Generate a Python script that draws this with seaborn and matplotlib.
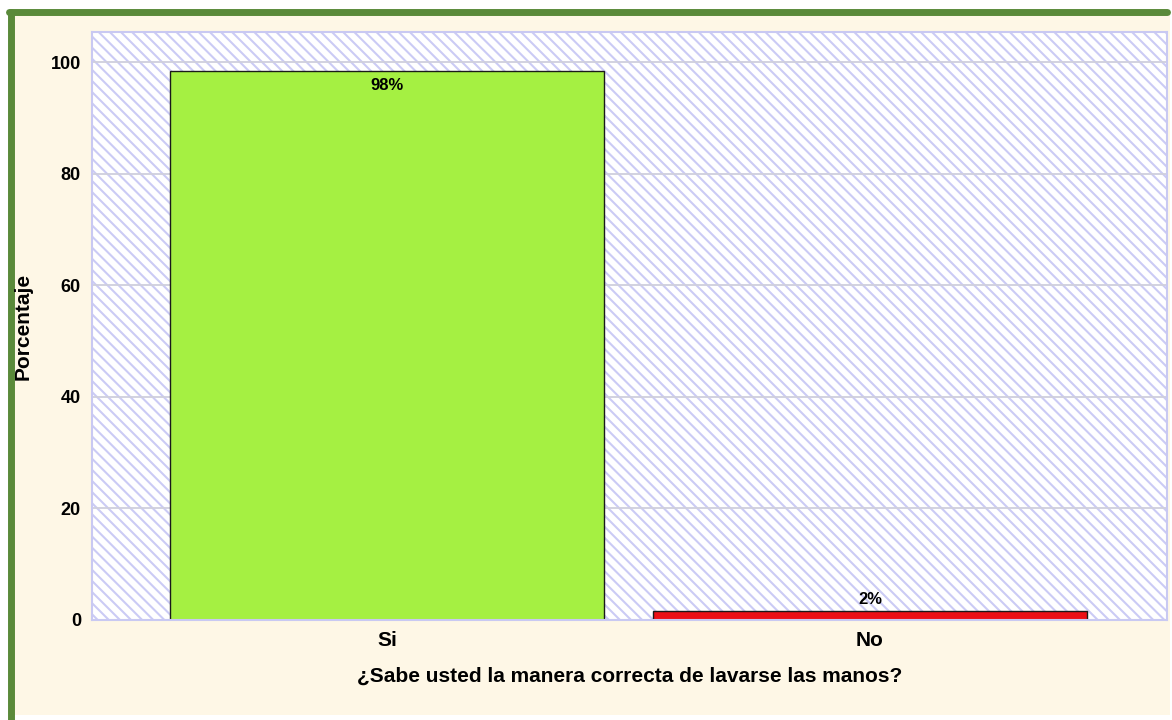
import pandas as pd
import matplotlib.pyplot as plt
import seaborn as sns
from matplotlib.patches import Rectangle

categorias = ["Si", "No"]
porcentajes = [98.4, 1.6]
etiquetas = ["98%", "2%"]
colores = ["#A5F042", "#EC0F16"]

df = pd.DataFrame({"Respuesta": categorias, "Porcentaje": porcentajes})

sns.set_style("white")
plt.rcParams["font.family"] = ["Liberation Sans Narrow", "Liberation Sans", "DejaVu Sans"]
plt.rcParams["hatch.linewidth"] = 1.5
plt.rcParams["text.color"] = "black"
plt.rcParams["axes.labelcolor"] = "black"
plt.rcParams["xtick.color"] = "black"
plt.rcParams["ytick.color"] = "black"

fig = plt.figure(figsize=(11.72, 7.2), dpi=100)
fig.patch.set_facecolor("white")
# fondo crema con borde verde
fig.add_artist(Rectangle((10 / 1172, 0.007), 1160 / 1172, 1 - 0.007 - 12 / 720,
                         transform=fig.transFigure, facecolor="#FEF7E6",
                         edgecolor="none", zorder=-5))
fig.add_artist(plt.Line2D([11 / 1172, 11 / 1172], [0, 1 - 12 / 720],
                          transform=fig.transFigure, color="#5A8A3A", lw=5, zorder=-4))
fig.add_artist(plt.Line2D([9 / 1172, 1167 / 1172], [1 - 12 / 720, 1 - 12 / 720],
                          transform=fig.transFigure, color="#5A8A3A", lw=5, zorder=-4))

ax = fig.add_axes([92 / 1172, 1 - 620 / 720, (1167 - 92) / 1172, (620 - 32) / 720])
ax.set_zorder(2)
ax.set_facecolor("white")
ax.add_patch(Rectangle((0, 0), 1, 1, transform=ax.transAxes, facecolor="white",
                       edgecolor="#CBCBF5", hatch="\\\\\\", lw=0, zorder=0))

for y in [20, 40, 60, 80, 100]:
    ax.axhline(y, color="#CFCFDD", lw=1.3, zorder=1)

sns.barplot(data=df, x="Respuesta", y="Porcentaje", hue="Respuesta",
            palette=colores, saturation=1, width=0.9, edgecolor="#1A1A1A",
            linewidth=1, legend=False, ax=ax, zorder=2)

for i, (v, t) in enumerate(zip(porcentajes, etiquetas)):
    if v > 50:
        ax.text(i, v - 1.2, t, ha="center", va="top", fontsize=12, fontweight="bold")
    else:
        ax.text(i, v + 0.8, t, ha="center", va="bottom", fontsize=12, fontweight="bold")

ax.set_xlim(-0.611, 1.615)
ax.set_ylim(0, 105.4)
ax.set_yticks([0, 20, 40, 60, 80, 100])
ax.tick_params(axis="y", labelsize=13, length=0, pad=8)
ax.tick_params(axis="x", labelsize=15, length=0, pad=8)
for lab in ax.get_yticklabels():
    lab.set_fontweight("bold")
for lab in ax.get_xticklabels():
    lab.set_fontweight("bold")
    lab.set_family(["Liberation Sans", "DejaVu Sans"])

ax.set_xlabel("¿Sabe usted la manera correcta de lavarse las manos?", fontsize=15,
              fontweight="bold", family=["Liberation Sans", "DejaVu Sans"], labelpad=12)
ax.set_ylabel("Porcentaje", fontsize=15, fontweight="bold",
              family=["Liberation Sans", "DejaVu Sans"], labelpad=13)

for s in ["top", "right", "left", "bottom"]:
    ax.spines[s].set_color("#C9C9F2")
    ax.spines[s].set_linewidth(1.5)

fig.savefig("out.png", dpi=100)
